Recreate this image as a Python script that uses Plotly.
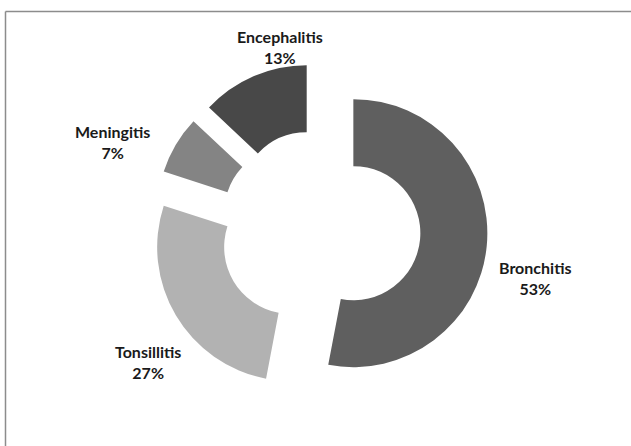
import plotly.graph_objects as go

labels = ["Bronchitis", "Tonsillitis", "Meningitis", "Encephalitis"]
values = [53, 27, 7, 13]
colors = ["#5f5f5f", "#b2b2b2", "#848484", "#484848"]

# label block centres in pixels (layout only)
label_pos = [(534.5, 277.5), (147.5, 361.5), (112, 141.5), (279.5, 47)]

W, H = 631, 446
total = sum(values)

fig = go.Figure(go.Pie(
    labels=labels,
    values=values,
    sort=False,
    direction="clockwise",
    rotation=0,
    hole=0.5,
    pull=[0.25, 0.25, 0.25, 0.25],
    marker=dict(colors=colors, line=dict(width=0)),
    textinfo="none",
    domain=dict(x=[152.5 / W, 487.5 / W], y=[1 - 397.5 / H, 1 - 62.5 / H]),
    showlegend=False,
    hoverinfo="label+percent",
))

annotations = []
for lab, val, (px, py) in zip(labels, values, label_pos):
    annotations.append(dict(
        xref="paper", yref="paper", x=px / W, y=1 - py / H,
        xanchor="center", yanchor="middle", showarrow=False,
        text=f"<b>{lab}<br>{round(val / total * 100)}%</b>",
        font=dict(family="Lato", size=16, color="#1a1a1a"),
        align="center",
    ))

border = dict(color="#8c8c8c", width=1.5)
fig.update_layout(
    width=W, height=H,
    margin=dict(l=0, r=0, t=0, b=0),
    paper_bgcolor="white",
    plot_bgcolor="white",
    annotations=annotations,
    shapes=[
        dict(type="line", xref="paper", yref="paper",
             x0=5.5 / W, x1=1.2, y0=1 - 11.5 / H, y1=1 - 11.5 / H, line=border),
        dict(type="line", xref="paper", yref="paper",
             x0=5.5 / W, x1=5.5 / W, y0=-0.2, y1=1 - 11.5 / H, line=border),
    ],
)

fig.write_html("out.html",
               config={"displayModeBar": False},
               post_script="document.body.style.margin='0';document.body.style.overflow='hidden';")
